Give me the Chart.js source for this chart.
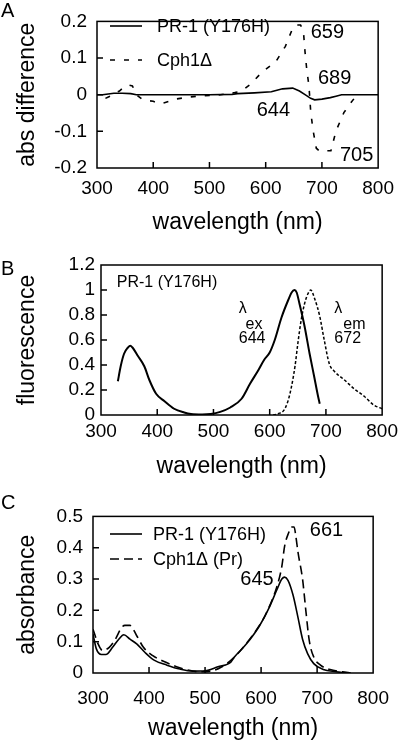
<!DOCTYPE html>
<html lang="en">
<head>
<meta charset="UTF-8">
<title>PR-1 (Y176H) spectra</title>
<script src="https://cdn.jsdelivr.net/npm/chart.js@4.4.0/dist/chart.umd.min.js"></script>
<style>
  html, body { margin: 0; padding: 0; background: #fff; }
  body { width: 403px; height: 742px; position: relative; overflow: hidden; font-family: 'Liberation Sans', Arial, sans-serif; }
  .panel { position: absolute; left: 0; width: 403px; }
  .panel canvas { display: block; }
  .tag { position: absolute; left: 1px; font-size: 20px; line-height: 20px; color: #000; }
</style>
</head>
<body>
<div class="panel" style="top:0;height:245px"><canvas id="chartA" width="403" height="245"></canvas></div>
<div class="panel" style="top:245px;height:250px"><canvas id="chartB" width="403" height="250"></canvas></div>
<div class="panel" style="top:495px;height:247px"><canvas id="chartC" width="403" height="247"></canvas></div>
<div class="tag" style="top:0px">A</div>
<div class="tag" style="top:258px">B</div>
<div class="tag" style="top:492px">C</div>

<script>
// shared x axis (nm)
const waveTicks = [300, 400, 500, 600, 700, 800];

// A: absorbance difference spectra
const aTicks = [-0.2, -0.1, 0, 0.1, 0.2];
const aWaveY176H = [300, 310, 320, 330, 345, 360, 370, 400, 450, 500, 540, 550, 580, 610, 630, 648, 660, 670, 680, 687, 700, 715, 725, 735, 760, 800];
const aDiffY176H = [0, 0, 0.002, 0.004, 0.004, 0.003, 0, 0, 0, 0, 0.001, 0.003, 0.005, 0.008, 0.016, 0.018, 0.01, 0, -0.01, -0.014, -0.012, -0.008, -0.004, 0, 0, 0];
const aWaveCph1 = [315, 322, 330, 340, 350, 357, 363, 370, 380, 390, 400, 410, 420, 440, 460, 480, 500, 520, 545, 557, 574, 593, 618, 635, 649, 655, 662, 667, 670, 673, 677, 680, 684, 690, 696, 705, 716, 725, 739, 750, 757, 765];
const aDiffCph1 = [-0.01, -0.005, 0.003, 0.01, 0.024, 0.026, 0.024, 0, -0.012, -0.016, -0.018, -0.024, -0.022, -0.012, -0.007, -0.004, -0.002, 0, 0.006, 0.01, 0.03, 0.061, 0.09, 0.132, 0.185, 0.19, 0.19, 0.175, 0.116, 0.069, 0.023, -0.045, -0.095, -0.146, -0.154, -0.153, -0.153, -0.099, -0.049, -0.025, -0.011, -0.003];

// B: fluorescence excitation / emission
const bTicks = [0, 0.2, 0.4, 0.6, 0.8, 1, 1.2];
const bWaveEx = [330, 335, 341, 348, 352, 356, 366, 377, 386, 398, 413, 430, 448, 460, 480, 495, 512, 530, 550, 565, 580, 590, 600, 609, 621, 633, 639, 644, 648, 653, 662, 671, 679, 686, 689];
const bFluorEx = [0.27, 0.39, 0.49, 0.54, 0.555, 0.54, 0.47, 0.39, 0.28, 0.17, 0.11, 0.05, 0.02, 0.008, 0.004, 0.008, 0.025, 0.06, 0.13, 0.25, 0.36, 0.44, 0.5, 0.6, 0.78, 0.92, 0.98, 1.0, 0.98, 0.89, 0.71, 0.49, 0.31, 0.15, 0.09];
const bWaveEm = [606, 615, 627, 636, 645, 650, 656, 662, 668, 673, 680, 689, 697, 706, 715, 733, 750, 768, 785, 800];
const bFluorEm = [0, 0.01, 0.05, 0.17, 0.39, 0.57, 0.76, 0.89, 0.97, 1.0, 0.93, 0.79, 0.6, 0.41, 0.35, 0.28, 0.21, 0.15, 0.08, 0.05];

// C: absorbance
const cTicks = [0, 0.1, 0.2, 0.3, 0.4, 0.5];
const cWaveY176H = [300, 306, 315, 323, 335, 346, 355, 366, 378, 392, 409, 432, 455, 478, 500, 523, 546, 552, 574, 597, 614, 628, 637, 642, 648, 657, 666, 674, 683, 694, 711, 734, 751];
const cAbsY176H = [0.124, 0.077, 0.059, 0.059, 0.082, 0.108, 0.122, 0.108, 0.093, 0.067, 0.041, 0.025, 0.0125, 0.006, 0.007, 0.02, 0.035, 0.05, 0.093, 0.15, 0.207, 0.265, 0.3, 0.306, 0.296, 0.249, 0.176, 0.108, 0.062, 0.03, 0.011, 0.004, 0];
const cWaveCph1 = [300, 309, 317, 329, 340, 351, 357, 366, 378, 390, 406, 429, 449, 466, 489, 510, 530, 552, 574, 597, 609, 628, 637, 642, 649, 654, 659, 662, 666, 674, 680, 686, 694, 706, 723, 745, 760];
const cAbsCph1 = [0.14, 0.093, 0.072, 0.082, 0.108, 0.145, 0.152, 0.152, 0.119, 0.082, 0.056, 0.035, 0.02, 0.011, 0.004, 0.006, 0.02, 0.05, 0.095, 0.152, 0.19, 0.275, 0.34, 0.405, 0.447, 0.466, 0.466, 0.437, 0.384, 0.3, 0.197, 0.103, 0.051, 0.025, 0.011, 0.004, 0];

const FONT = "'Liberation Sans', Arial, sans-serif";
Chart.defaults.font.family = FONT;
Chart.defaults.color = '#000';

function pts(xs, ys) { return xs.map((x, i) => ({ x: x, y: ys[i] })); }
function fmt(v) { return String(+v.toFixed(2)); }

// box around the plot + short inward ticks
const frameTicks = {
  id: 'frameTicks',
  afterDatasetsDraw(chart) {
    const { ctx, chartArea: a, scales: { x, y } } = chart;
    ctx.save();
    ctx.strokeStyle = '#000';
    ctx.lineWidth = 1.5;
    ctx.setLineDash([]);
    ctx.strokeRect(a.left, a.top, a.right - a.left, a.bottom - a.top);
    ctx.beginPath();
    x.ticks.forEach(t => {
      if (t.value <= x.min || t.value >= x.max) return;
      const px = x.getPixelForValue(t.value);
      ctx.moveTo(px, a.bottom); ctx.lineTo(px, a.bottom - 6);
    });
    y.ticks.forEach(t => {
      if (t.value <= y.min || t.value >= y.max) return;
      const py = y.getPixelForValue(t.value);
      ctx.moveTo(a.left, py); ctx.lineTo(a.left + 6, py);
    });
    ctx.stroke();
    ctx.restore();
  }
};

// text labels placed in data coordinates
const notes = {
  id: 'notes',
  afterDatasetsDraw(chart, args, opts) {
    const { ctx, scales: { x, y } } = chart;
    (opts.items || []).forEach(n => {
      ctx.save();
      ctx.font = n.size + 'px ' + FONT;
      ctx.fillStyle = '#000';
      ctx.textAlign = 'left';
      ctx.textBaseline = 'middle';
      ctx.fillText(n.text, x.getPixelForValue(n.x), y.getPixelForValue(n.y));
      ctx.restore();
    });
  }
};

// small legend inside the plot box
const key = {
  id: 'key',
  afterDatasetsDraw(chart, args, opts) {
    if (!opts.show) return;
    const ctx = chart.ctx;
    chart.data.datasets.forEach((ds, i) => {
      const yy = opts.top + i * opts.gap;
      ctx.save();
      ctx.strokeStyle = '#000';
      ctx.lineWidth = ds.borderWidth;
      ctx.setLineDash(ds.borderDash || []);
      ctx.beginPath();
      ctx.moveTo(opts.left, yy);
      ctx.lineTo(opts.left + opts.len, yy);
      ctx.stroke();
      ctx.setLineDash([]);
      ctx.font = '18px ' + FONT;
      ctx.fillStyle = '#000';
      ctx.textBaseline = 'middle';
      ctx.fillText(ds.label, opts.textLeft, yy + 1);
      ctx.restore();
    });
  }
};

function makeChart(id, p) {
  return new Chart(document.getElementById(id), {
    type: 'line',
    data: { datasets: p.datasets },
    options: {
      responsive: false,
      animation: false,
      devicePixelRatio: 1,
      events: [],
      layout: { padding: { top: p.padTop, right: 18, left: 0, bottom: 0 } },
      elements: { point: { radius: 0 } },
      plugins: {
        legend: { display: false },
        tooltip: { enabled: false },
        notes: { items: p.notes },
        key: p.key || { show: false }
      },
      scales: {
        x: {
          type: 'linear', min: 300, max: 800,
          afterBuildTicks: s => { s.ticks = waveTicks.map(v => ({ value: v })); },
          afterFit: s => { s.height = p.xHeight; },
          grid: { display: false, drawTicks: false },
          border: { display: false },
          ticks: { font: { size: 19 }, padding: p.xPad, autoSkip: false, maxRotation: 0, color: '#000' },
          title: { display: true, text: 'wavelength (nm)', font: { size: 23 }, padding: { top: 0, bottom: p.xTitlePad }, color: '#000' }
        },
        y: {
          type: 'linear', min: p.yTicks[0], max: p.yTicks[p.yTicks.length - 1],
          afterBuildTicks: s => { s.ticks = p.yTicks.map(v => ({ value: v })); },
          afterFit: s => { s.width = p.yWidth; },
          grid: { display: false, drawTicks: false },
          border: { display: false },
          ticks: { font: { size: 19 }, padding: p.yPad, autoSkip: false, callback: fmt, color: '#000' },
          title: { display: true, text: p.yTitle, font: { size: 23 }, padding: { top: 14, bottom: 0 }, color: '#000' }
        }
      }
    },
    plugins: [frameTicks, notes, key]
  });
}

makeChart('chartA', {
  padTop: 10, xHeight: 77, yWidth: 97, xPad: 9, yPad: 10, xTitlePad: 9,
  yTicks: aTicks, yTitle: 'abs difference',
  datasets: [
    { label: 'PR-1 (Y176H)', data: pts(aWaveY176H, aDiffY176H), borderColor: '#000', borderWidth: 1.6, tension: 0 },
    { label: 'Cph1\u0394', data: pts(aWaveCph1, aDiffCph1), borderColor: '#000', borderWidth: 1.6, borderDash: [5, 9], tension: 0 }
  ],
  key: { show: true, left: 110, len: 32, top: 26, gap: 34, textLeft: 157 },
  notes: [
    { text: '659', x: 680, y: 0.17, size: 20 },
    { text: '689', x: 693, y: 0.044, size: 20 },
    { text: '644', x: 584, y: -0.043, size: 20 },
    { text: '705', x: 732, y: -0.165, size: 20 }
  ]
});

makeChart('chartB', {
  padTop: 20, xHeight: 80, yWidth: 101, xPad: 5, yPad: 6, xTitlePad: 15,
  yTicks: bTicks, yTitle: 'fluorescence',
  datasets: [
    { label: 'excitation', data: pts(bWaveEx, bFluorEx), borderColor: '#000', borderWidth: 2, cubicInterpolationMode: 'monotone' },
    { label: 'emission', data: pts(bWaveEm, bFluorEm), borderColor: '#000', borderWidth: 1.5, borderDash: [3, 2], cubicInterpolationMode: 'monotone' }
  ],
  notes: [
    { text: 'PR-1 (Y176H)', x: 328, y: 1.06, size: 16 },
    { text: '\u03bb', x: 545, y: 0.85, size: 16 },
    { text: 'ex', x: 557, y: 0.72, size: 16 },
    { text: '644', x: 545, y: 0.61, size: 16 },
    { text: '\u03bb', x: 715, y: 0.85, size: 16 },
    { text: 'em', x: 731, y: 0.72, size: 16 },
    { text: '672', x: 715, y: 0.61, size: 16 }
  ]
});

makeChart('chartC', {
  padTop: 18, xHeight: 69, yWidth: 93, xPad: 14, yPad: 10, xTitlePad: 0,
  yTicks: cTicks, yTitle: 'absorbance',
  datasets: [
    { label: 'PR-1 (Y176H)', data: pts(cWaveY176H, cAbsY176H), borderColor: '#000', borderWidth: 1.6, cubicInterpolationMode: 'monotone' },
    { label: 'Cph1\u0394 (Pr)', data: pts(cWaveCph1, cAbsCph1), borderColor: '#000', borderWidth: 1.6, borderDash: [9, 5], cubicInterpolationMode: 'monotone' }
  ],
  key: { show: true, left: 110, len: 32, top: 39, gap: 25, textLeft: 153 },
  notes: [
    { text: '661', x: 687, y: 0.455, size: 20 },
    { text: '645', x: 563, y: 0.298, size: 20 }
  ]
});
</script>
</body>
</html>
